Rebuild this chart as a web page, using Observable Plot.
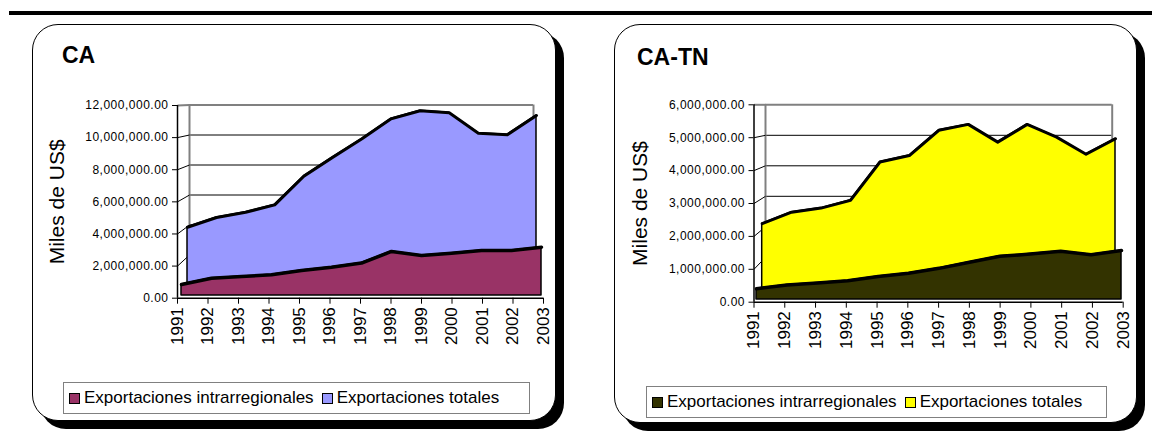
<!DOCTYPE html>
<html><head><meta charset="utf-8">
<script src="https://cdn.jsdelivr.net/npm/d3@7"></script>
<script src="https://cdn.jsdelivr.net/npm/@observablehq/plot@0.6"></script>
<style>
body{margin:0;background:#fff;font-family:"Liberation Sans",Arial,sans-serif;}
#page{position:relative;width:1152px;height:432px;overflow:hidden;background:#fff;}
.topline{position:absolute;left:9px;right:0;top:11px;height:4px;background:#000;}
.panel{position:absolute;border:1.5px solid #000;border-radius:26px;box-shadow:8px 8px 0 #000;background:#fff;box-sizing:border-box;}
.title{position:absolute;font-weight:bold;font-size:23px;line-height:23px;white-space:nowrap;}
.layer{position:absolute;top:0;}
.legend{position:absolute;border:1px solid #808080;display:flex;align-items:center;font-size:17px;box-sizing:border-box;padding-left:5px;white-space:nowrap;background:#fff;}
.sw{width:9px;height:9px;border:1.5px solid #000;margin-right:4px;flex:none;}
.item{display:flex;align-items:center;margin-right:8px;}
g[aria-label="y-axis tick label"] text{letter-spacing:0.5px;}
</style>
</head><body>
<div id="page"><div class="topline"></div></div>
<script>
const years = [1991, 1992, 1993, 1994, 1995, 1996, 1997, 1998, 1999, 2000, 2001, 2002, 2003];
const caIntra = [690000, 1090000, 1200000, 1310000, 1580000, 1790000, 2050000, 2780000, 2530000, 2670000, 2840000, 2840000, 3050000];
const caTotal = [3960000, 4600000, 4950000, 5440000, 7330000, 8590000, 9800000, 11120000, 11650000, 11520000, 10170000, 10070000, 11340000];
const catnIntra = [330000, 450000, 510000, 580000, 710000, 810000, 960000, 1150000, 1330000, 1400000, 1490000, 1380000, 1510000];
const catnTotal = [2180000, 2550000, 2680000, 2930000, 4160000, 4370000, 5180000, 5370000, 4800000, 5370000, 4960000, 4410000, 4910000];
const caTicks = [0, 2000000, 4000000, 6000000, 8000000, 10000000, 12000000];
const catnTicks = [0, 1000000, 2000000, 3000000, 4000000, 5000000, 6000000];
const seriesNames = ["Exportaciones intrarregionales", "Exportaciones totales"];
const caColors = ["#993366", "#9999FF"];
const catnColors = ["#333300", "#FFFF00"];
const yTitle = "Miles de US$";
const titles = ["CA", "CA-TN"];

const page = document.getElementById("page");
const W = 576, H = 432;

const charts = [
  {offset: 0, title: titles[0], intra: caIntra, total: caTotal, ticks: caTicks, colors: caColors, yDx: -120,
   panel: {left: 32, top: 24, width: 524, height: 397}, titlePos: {left: 62, top: 44},
   legend: {left: 63, top: 382, width: 467, height: 32},
   boxes: {front: [177, 543, 297.7, 105], intra: [181, 541, 295, 105], total: [187, 536, 286.7, 105], back: [189, 533, 284.5, 104.5]}},
  {offset: 576, title: titles[1], intra: catnIntra, total: catnTotal, ticks: catnTicks, colors: catnColors, yDx: -114,
   panel: {left: 614, top: 24, width: 523, height: 399}, titlePos: {left: 637, top: 46},
   legend: {left: 646, top: 386, width: 461, height: 32},
   boxes: {front: [177.5, 546.7, 301.7, 104.3], intra: [180, 545, 299, 104.3], total: [185.7, 539, 291, 104.3], back: [189, 535.7, 287.3, 104.3]}}
];

function addLayer(offset, box, yMax, marks, noAxes) {
  const [x0, x1, yb, yt] = box;
  const opts = {
    width: W, height: H,
    marginLeft: x0, marginRight: W - x1, marginTop: yt, marginBottom: H - yb,
    x: {type: "linear", domain: [years[0], years[years.length - 1]]},
    y: {domain: [0, yMax]},
    style: {background: "transparent", overflow: "visible", fontFamily: "Liberation Sans, Arial, sans-serif", color: "#000"},
    marks
  };
  if (noAxes) { opts.x.axis = null; opts.y.axis = null; }
  const svg = Plot.plot(opts);
  svg.classList.add("layer");
  svg.style.left = offset + "px";
  page.appendChild(svg);
}

for (const c of charts) {
  const panel = document.createElement("div");
  panel.className = "panel";
  Object.assign(panel.style, {left: c.panel.left + "px", top: c.panel.top + "px", width: c.panel.width + "px", height: c.panel.height + "px"});
  page.appendChild(panel);

  const t = document.createElement("div");
  t.className = "title";
  t.textContent = c.title;
  Object.assign(t.style, {left: c.titlePos.left + "px", top: c.titlePos.top + "px"});
  page.appendChild(t);

  const yMax = c.ticks[c.ticks.length - 1];
  const intraRows = years.map((y, i) => ({year: y, value: c.intra[i]}));
  const totalRows = years.map((y, i) => ({year: y, value: c.total[i]}));

  // back wall
  addLayer(c.offset, c.boxes.back, yMax, [
    Plot.ruleY(c.ticks.filter(v => v > 0 && v < yMax), {stroke: "#000", strokeWidth: 1}),
    Plot.ruleX([years[0], years[years.length - 1]], {stroke: "#808080", strokeWidth: 2}),
    Plot.ruleY([yMax], {stroke: "#808080", strokeWidth: 2})
  ], true);

  // connectors from front axis ticks to back-wall gridlines
  const fb = c.boxes.front, bb = c.boxes.back;
  const fX = Plot.scale({x: {type: "linear", domain: [years[0], years[years.length - 1]], range: [fb[0], fb[1]]}});
  const fY = Plot.scale({y: {type: "linear", domain: [0, yMax], range: [fb[2], fb[3]]}});
  const bX = Plot.scale({x: {type: "linear", domain: [years[0], years[years.length - 1]], range: [bb[0], bb[1]]}});
  const bY = Plot.scale({y: {type: "linear", domain: [0, yMax], range: [bb[2], bb[3]]}});
  const conn = Plot.plot({
    width: W, height: H, margin: 0,
    x: {type: "identity", axis: null}, y: {type: "identity", axis: null},
    style: {background: "transparent", overflow: "visible"},
    marks: [
      Plot.link(c.ticks.filter(v => v > 0 && v < yMax), {x1: () => fX.apply(years[0]), y1: v => fY.apply(v), x2: () => bX.apply(years[0]), y2: v => bY.apply(v), stroke: "#000", strokeWidth: 1}),
      Plot.link([yMax], {x1: () => fX.apply(years[0]), y1: v => fY.apply(v), x2: () => bX.apply(years[0]), y2: v => bY.apply(v), stroke: "#808080", strokeWidth: 2})
    ]
  });
  conn.classList.add("layer");
  conn.style.left = c.offset + "px";
  page.appendChild(conn);

  // totals (behind)
  addLayer(c.offset, c.boxes.total, yMax, [
    Plot.areaY(totalRows, {x: "year", y: "value", fill: c.colors[1], stroke: "#000", strokeWidth: 1.5}),
    Plot.lineY(totalRows, {x: "year", y: "value", stroke: "#000", strokeWidth: 3})
  ], true);

  // intra (front)
  addLayer(c.offset, c.boxes.intra, yMax, [
    Plot.areaY(intraRows, {x: "year", y: "value", fill: c.colors[0], stroke: "#000", strokeWidth: 1.5}),
    Plot.lineY(intraRows, {x: "year", y: "value", stroke: "#000", strokeWidth: 3.5})
  ], true);

  // front axes
  addLayer(c.offset, c.boxes.front, yMax, [
    Plot.ruleX([years[0]], {stroke: "#000", strokeWidth: 1.5}),
    Plot.ruleY([0], {stroke: "#000", strokeWidth: 1.5}),
    Plot.axisY({ticks: c.ticks, tickFormat: d3.format(",.2f"), tickSize: 5, tickPadding: 4, fontSize: 12, label: null}),
    Plot.axisX({ticks: years, tickFormat: d => String(d), tickSize: 6, tickPadding: 3, tickRotate: -90, fontSize: 17, label: null}),
    Plot.text([yTitle], {frameAnchor: "left", textAnchor: "middle", dx: c.yDx, rotate: -90, fontSize: 21, fill: "#000"})
  ], false);

  // legend
  const lg = document.createElement("div");
  lg.className = "legend";
  Object.assign(lg.style, {left: c.legend.left + "px", top: c.legend.top + "px", width: c.legend.width + "px", height: c.legend.height + "px"});
  seriesNames.forEach((name, i) => {
    const it = document.createElement("div");
    it.className = "item";
    const sw = document.createElement("div");
    sw.className = "sw";
    sw.style.background = c.colors[i];
    const tx = document.createElement("span");
    tx.textContent = name;
    it.appendChild(sw); it.appendChild(tx);
    lg.appendChild(it);
  });
  page.appendChild(lg);
}
</script>
</body></html>
